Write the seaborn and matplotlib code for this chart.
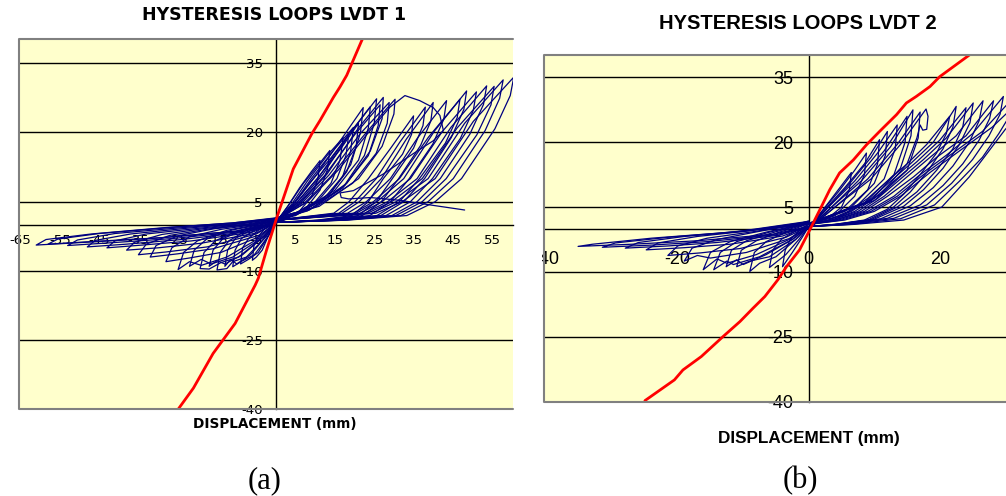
import matplotlib
matplotlib.use("Agg")
import matplotlib.pyplot as plt
from matplotlib.patches import Rectangle
import seaborn as sns
import pandas as pd

# ---------------- LVDT 1 (panel a) ----------------
lvdt1_red_x = [-24.9, -21, -16, -10.4, -5.3, -4.5, -2.4, 0, 1.7, 4.4, 9.1, 11.2, 14.6, 16.3, 18, 21.8, 23]
lvdt1_red_y = [-40, -35.4, -27.9, -21.4, -13.1, -11.6, -5.5, 1.0, 5.3, 12.1, 19.7, 22.6, 27.6, 29.9, 32.4, 39.9, 42]

# stiff positive loops (left fan)
lvdt1_left_loops = [
    [(0, 0.5), (3, 4), (6, 8), (9, 11.5), (11.2, 13.9), (10.7, 10), (9, 6), (6, 3), (2, 1), (0, 0.5)],
    [(0, 0.5), (3, 4), (7, 9), (11, 13.2), (13.7, 16.1), (13.1, 12), (11.2, 7.5), (8, 4), (3, 1.5), (0, 0.8)],
    [(0, 0.5), (4, 4.5), (8, 9.5), (13, 15), (17.1, 18.9), (16.3, 14), (14, 9), (10, 5), (4, 2), (0, 1)],
    [(0, 0.8), (4, 4), (9, 10), (15, 16.5), (19.7, 21.1), (19, 16), (17, 10.5), (12, 5.5), (5, 2), (0, 1)],
    [(0, 0.8), (5, 5), (10, 10.5), (17, 19), (22.2, 25.4), (21.5, 20), (19, 13), (14, 7), (6, 2.5), (0, 1)],
    [(0, 1), (5, 4.5), (11, 10.5), (18, 19), (24, 25.6), (23.5, 21), (21, 14), (15, 7.5), (7, 3), (0, 1)],
    [(0, 1), (6, 5), (12, 11), (19, 20), (25.6, 27.3), (25, 22), (22.5, 15), (17, 8), (8, 3), (0, 1)],
    [(0, 1), (6, 4.5), (13, 11), (21, 21), (27.3, 27.6), (27, 23), (24, 16), (18, 9), (9, 3.5), (0, 1.5)],
    [(0, 1), (7, 4.5), (14, 10.5), (22, 19), (28, 25), (30.3, 27.2), (30, 24), (27, 17), (21, 10), (11, 4), (0, 1.5)],
    [(0, 0.5), (4, 4), (8.5, 9), (14, 14.5), (18.5, 19.5), (17.8, 15), (15.5, 10), (11, 5.5), (4, 1.8), (0, 0.8)],
    [(0, 0.8), (5, 4.5), (10.5, 10), (16.5, 16.5), (21, 22), (20.4, 17), (18, 11.5), (13, 6), (5, 2.2), (0, 1)],
    [(0, 1), (6, 4.7), (12.5, 10.8), (20, 19.5), (26.5, 26), (26, 21.5), (23.5, 15), (17.5, 8.5), (8.5, 3.2), (0, 1.2)],
    [(0, 1), (6.5, 4.6), (13.5, 10.8), (21.5, 19.8), (28.8, 26.5), (28.3, 22), (25.5, 15.5), (19.5, 9), (10, 3.8), (0, 1.4)],
    [(0, 1), (8, 5), (16, 12), (24, 20.5), (29, 25.5), (32.8, 28), (36.6, 26.9), (40, 25.4), (41.7, 23.7),
     (42.6, 20.4), (40, 18.2), (34.9, 15.4), (27.3, 11), (19.7, 7.4), (16.3, 6.9), (16.6, 5.9), (18.5, 5.6),
     (24, 5.9), (31.5, 5.3), (40, 4.2), (48, 3.2)],
]

# softened positive loops (right fan)
lvdt1_right_loops = [
    [(0, 1), (14.7, 2.5), (18.6, 5), (23.5, 10), (29.1, 16.5), (35, 23.6), (34.5, 19.6), (32.2, 15.3), (27.3, 10), (23.5, 5), (19.3, 2), (10.5, 1), (0, 0.5)],
    [(0, 1), (16, 2.5), (20.1, 5), (25.5, 10), (31.5, 17.9), (38, 25.5), (37.4, 21.5), (35, 16.6), (29.6, 10), (25.5, 5), (20.9, 2), (11.4, 1), (0, 0.5)],
    [(0, 1), (16.8, 2.5), (21.2, 5), (26.8, 10), (33.2, 18.6), (40, 26.5), (39.4, 22.5), (36.8, 17.2), (31.2, 10), (26.8, 5), (22, 2), (12, 1), (0, 0.5)],
    [(0, 1), (18.2, 2.5), (23, 5), (29.1, 10), (36, 18.8), (43.4, 26.9), (42.7, 22.9), (39.9, 17.5), (33.9, 10), (29.1, 5), (23.9, 2), (13, 1), (0, 0.5)],
    [(0, 1), (19.7, 2.5), (24.8, 5), (31.4, 10), (38.8, 19), (46.8, 27.2), (46.1, 23.2), (43.1, 17.7), (36.5, 10), (31.4, 5), (25.7, 2), (14, 1), (0, 0.5)],
    [(0, 1), (20.4, 2.5), (25.7, 5), (32.5, 10), (40.3, 20.3), (48.5, 29), (47.8, 25), (44.6, 18.9), (37.8, 10), (32.5, 5), (26.7, 2), (14.6, 1), (0, 0.5)],
    [(0, 1), (21.4, 2.5), (27, 5), (34.2, 10), (42.3, 20.2), (51, 28.8), (50.2, 24.8), (46.9, 18.7), (39.8, 10), (34.2, 5), (28, 2), (15.3, 1), (0, 0.5)],
    [(0, 1), (22.5, 2.5), (28.4, 5), (35.9, 10), (44.5, 21.1), (53.6, 30.1), (52.8, 26.1), (49.3, 19.6), (41.8, 10), (35.9, 5), (29.5, 2), (16.1, 1), (0, 0.5)],
    [(0, 1), (23.3, 2.5), (29.4, 5), (37.2, 10), (46.1, 21), (55.5, 30), (54.7, 26), (51.1, 19.5), (43.3, 10), (37.2, 5), (30.5, 2), (16.7, 1), (0, 0.5)],
    [(0, 1), (24.3, 2.5), (30.6, 5), (38.7, 10), (48, 22), (57.8, 31.4), (56.9, 27.4), (53.2, 20.4), (45.1, 10), (38.7, 5), (31.8, 2), (17.3, 1), (0, 0.5)],
    [(0, 1), (25.4, 2.5), (32.1, 5), (40.5, 10), (50.2, 22.4), (60.5, 32), (59.6, 28), (55.7, 20.8), (47.2, 10), (40.5, 5), (33.3, 2), (18.2, 1), (0, 0.5)],
]

# negative half cycles
lvdt1_neg_loops = [
    [(0, 0.5), (-2, -2.5), (-3.5, -5.5), (-5, -7), (-6, -7.7), (-5.6, -4.5), (-4.5, -2.5), (-3, -1), (-1, 0), (0, 1)],
    [(0, 0.5), (-2, -2.5), (-4.5, -6), (-7, -7.5), (-9, -8.5), (-8.5, -5), (-7, -3), (-4.5, -1.2), (-2, -0.2), (0, 1)],
    [(0, 0.5), (-2, -2.5), (-5.5, -6.5), (-8.5, -7.8), (-11, -9.1), (-10.4, -5.5), (-8.8, -3), (-5.5, -1.2), (-2, -0.2), (0, 1)],
    [(0, 0.5), (-2.5, -2.5), (-6.5, -6.5), (-10, -8.5), (-11.5, -7.5), (-13, -9), (-12.3, -5.5), (-10.4, -3), (-6.5, -1.2), (-2.5, -0.2), (0, 1)],
    [(0, 0.5), (-2.5, -2.5), (-7.5, -7), (-11, -8), (-12.5, -9.5), (-15, -9.8), (-14.2, -6), (-12, -3.5), (-7.5, -1.2), (-3, -0.2), (0, 1)],
    [(0, 0.5), (-3, -2.5), (-8.5, -6.5), (-13, -8.5), (-15, -7.8), (-17, -9), (-16, -5.5), (-13.5, -3), (-8.5, -1.2), (-3, -0.1), (0, 1)],
    [(0, 0.5), (-3, -2.5), (-9.5, -7), (-14, -8.2), (-17, -9.6), (-19.3, -9.5), (-18.3, -6), (-15.5, -3.5), (-9.5, -1.2), (-4, -0.1), (0, 1)],
    [(0, 0.5), (-3, -2.5), (-11, -7), (-16.5, -8.5), (-19, -7.5), (-22, -9), (-20.8, -5.5), (-17.5, -3), (-11, -1.1), (-4, 0), (0, 1)],
    [(0, 0.5), (-3.5, -2.5), (-12.5, -7), (-19, -8.8), (-22, -8), (-24.9, -9.7), (-23.5, -6), (-20, -3.5), (-12.5, -1.2), (-5, 0), (0, 1)],
    [(0, 0.5), (-4, -2.5), (-14, -6), (-22, -7.2), (-28, -8), (-26.5, -5), (-22, -2.6), (-14, -1), (-5, 0.1), (0, 1)],
    [(0, 0.5), (-4, -2.2), (-16, -5.2), (-25, -6.3), (-32, -7), (-30.5, -4.5), (-25, -2.4), (-16, -0.9), (-6, 0.1), (0, 1)],
    [(0, 0.5), (-5, -2), (-17.5, -4.8), (-28, -5.9), (-35, -6.5), (-33, -4.2), (-27, -2.3), (-17, -0.9), (-6, 0.2), (0, 1.2)],
    [(0, 0.5), (-5, -1.8), (-19, -4), (-30, -5), (-38, -5.5), (-36, -3.8), (-29, -2.1), (-18, -0.8), (-7, 0.2), (0, 1.2)],
    [(0, 0.5), (-6, -1.6), (-21.5, -3.5), (-34, -4.4), (-43, -5), (-41, -3.5), (-33, -2), (-20, -0.8), (-8, 0.3), (0, 1.3)],
    [(0, 0.5), (-7, -1.5), (-24, -3.2), (-38, -4.2), (-48, -4.8), (-46, -3.4), (-37, -2), (-22, -0.7), (-9, 0.3), (0, 1.3)],
    [(0, 0.5), (-8, -1.4), (-26.5, -3), (-42, -3.9), (-53, -4.5), (-50.5, -3.3), (-41, -1.9), (-25, -0.7), (-10, 0.3), (0, 1.4)],
    [(0, 0.5), (-9, -1.3), (-29, -2.8), (-46, -3.6), (-58, -4.2), (-55.5, -3.1), (-45, -1.9), (-27, -0.6), (-11, 0.4), (0, 1.4)],
    [(0, 0.5), (-9, -1.3), (-30.5, -2.9), (-48.5, -3.8), (-61, -4.4), (-58.5, -3.2), (-47, -2), (-28, -0.6), (-11, 0.4), (0, 1.5)],
]

lvdt1_xticks = [-65, -55, -45, -35, -25, -15, -5, 5, 15, 25, 35, 45, 55]
yticks = [-40, -25, -10, 5, 20, 35]

# ---------------- LVDT 2 (panel b) ----------------
lvdt2_red_x = [-25, -20.5, -19.2, -16.4, -13.1, -10.5, -8.5, -6.7, -4.7, -3.4, -1.4, 0.15, 1.7, 3.2, 4.7,
               6.8, 8.8, 10.8, 13.4, 14.9, 16.4, 18.5, 20, 24.6, 26]
lvdt2_red_y = [-39.8, -35, -32.7, -29.6, -25, -21.5, -18.4, -15.7, -11.8, -8.8, -4.9, -0.3, 4.4, 9, 12.9,
               15.9, 19.4, 22.5, 26.4, 29.1, 30.6, 32.9, 35.2, 40.3, 41.5]

lvdt2_left_loops = [
    [(0, 0), (2, 4), (4, 8), (6.5, 13), (6.2, 9), (5, 5), (3, 2.5), (0, 1)],
    [(0, 0), (2, 4), (4.5, 8.5), (7, 13.5), (8.8, 17.5), (8.5, 12.5), (7, 7.5), (4, 3), (0, 1)],
    [(0, 0), (2.5, 4.5), (5.5, 9.5), (8.5, 15), (10.8, 20.6), (10.5, 15), (9, 9), (5.5, 4), (0, 1)],
    [(0, 0), (3, 5), (6, 10), (9.5, 16.5), (12, 22.5), (11.7, 17), (10, 10.5), (6.5, 5), (0, 1)],
    [(0, 0), (3, 5), (7, 11), (10.5, 17.5), (13.5, 24), (13.2, 18.5), (11.5, 11.5), (7.5, 5.5), (0, 1.2)],
    [(0, 0), (3.5, 5), (7.5, 11), (11.5, 18), (15, 26), (14.7, 20), (13, 12.5), (8.5, 6), (0, 1.2)],
    [(0, 0), (3.5, 5), (8, 11), (12.5, 19), (15.9, 27.5), (15.6, 21.5), (14, 14), (9.5, 6.5), (0, 1.2)],
    [(0, 0), (4, 5), (9, 11.5), (13.5, 19.5), (17, 27), (16.7, 21), (15, 13.5), (10, 6.5), (0, 1.2)],
    [(0, 0), (4, 5), (9.5, 11.5), (14, 19.5), (17.9, 27.7), (18.2, 26), (18, 23), (17.4, 22.8), (17, 24),
     (16.5, 21), (15, 15), (11, 8), (5, 3), (0, 1.2)],
]

lvdt2_right_loops = [
    [(0, 1), (3, 2), (6, 4), (9, 7), (12, 11), (15, 15), (18, 19.5), (21.5, 26), (21, 22), (19.5, 17.5),
     (17, 12.5), (14.5, 8), (12, 4.5), (8.5, 2), (4, 1), (0, 0.5)],
    [(0, 1), (3, 2), (6.5, 4), (9.5, 7), (12.5, 11), (15.5, 15), (19, 20), (22.5, 28.3), (22, 23.5), (20.5, 18.5),
     (18, 13), (15.5, 8.5), (12.8, 4.8), (9, 2), (4, 1), (0, 0.5)],
    [(0, 1), (3.5, 2), (7, 4), (10, 7), (13, 11), (16.5, 15.5), (20, 20.5), (24, 28), (23.5, 23.5), (22, 18.5),
     (19.5, 13.5), (16.5, 8.5), (13.5, 5), (9.5, 2.1), (4.5, 1), (0, 0.5)],
    [(0, 1), (3.5, 2), (7.5, 4), (10.5, 7), (14, 11.5), (17.5, 16), (21, 21), (25.1, 29.1), (24.6, 24.5), (23, 19.5),
     (20.5, 14), (17.5, 9), (14.5, 5.2), (10, 2.2), (4.5, 1), (0, 0.5)],
    [(0, 1), (4, 2), (8, 4), (11.5, 7.5), (15, 12), (18.5, 16.5), (22.5, 21.5), (26.6, 29.6), (26, 25), (24.5, 20),
     (22, 14.5), (19, 9.5), (15.5, 5.3), (11, 2.3), (5, 1), (0, 0.5)],
    [(0, 1), (4, 2), (8.5, 4), (12, 7.5), (16, 12), (19.5, 16.5), (24, 21.5), (28.2, 29.6), (27.6, 25.5), (26, 20.5),
     (23.5, 15), (20.5, 10), (17, 5.5), (12, 2.4), (5.5, 1), (0, 0.5)],
    [(0, 1), (4.5, 2), (9, 4), (13, 7.5), (17, 12.5), (21, 17), (25, 22), (29.7, 30.6), (29.2, 26.5), (27.5, 21.5),
     (25, 16), (21.8, 10.5), (18, 5.5), (13, 2.4), (6, 1), (0, 0.5)],
    [(0, 1), (5, 2), (9.5, 4), (13.5, 7.5), (17.5, 12.5), (22, 17.5), (26.5, 22.5), (31.5, 30.8), (30.8, 26.5), (29, 22),
     (26.5, 16.5), (23, 11), (19.2, 5.5), (14, 2.3), (6.5, 1), (0, 0.5)],
    [(0, 1), (5.5, 2), (10, 4), (14, 7.5), (18.5, 13), (23, 18), (28, 23.5), (33.5, 31.5), (32.5, 27), (30, 23),
     (28, 19), (24.5, 12), (20.3, 5), (14.5, 2), (7, 1), (0, 0.5)],
]

lvdt2_neg_loops = [
    [(0, 0.5), (-1, -2), (-2.5, -5.5), (-4, -8.8), (-3.6, -5), (-2.8, -2.5), (-1.5, -0.5), (0, 1)],
    [(0, 0.5), (-1.5, -2.5), (-3.5, -6), (-6, -9), (-5.5, -5), (-4.2, -2.5), (-2, -0.5), (0, 1)],
    [(0, 0.5), (-2, -2.5), (-5, -6.5), (-7.5, -8), (-9, -9.9), (-8.3, -5.5), (-6.5, -3), (-3.5, -0.8), (0, 1.2)],
    [(0, 0.5), (-2, -2.5), (-6, -6.5), (-9, -7.5), (-11, -8.8), (-10.3, -5), (-8, -2.8), (-4.5, -0.8), (0, 1.2)],
    [(0, 0.5), (-2.5, -2.5), (-6.5, -6), (-10, -8.3), (-11, -7.2), (-12.6, -8.8), (-11.8, -5), (-9.5, -2.8), (-5, -0.7), (0, 1.3)],
    [(0, 0.5), (-2.5, -2.5), (-7.5, -6.5), (-11.5, -8.3), (-12.5, -7.5), (-14.5, -9.5), (-13.5, -5.5), (-11, -3), (-6, -0.8), (0, 1.3)],
    [(0, 0.5), (-3, -2.5), (-8, -6), (-12.5, -8), (-14, -7), (-16.1, -9.5), (-15, -5.5), (-12, -3), (-6.5, -0.8), (0, 1.4)],
    [(0, 0.5), (-3, -2.3), (-9.5, -5.5), (-15, -6.8), (-17, -6.2), (-19, -7.5), (-17.8, -4.5), (-14, -2.5), (-7.5, -0.6), (0, 1.4)],
    [(0, 0.5), (-3.5, -2), (-10.5, -4.6), (-16.5, -5.6), (-21.5, -6.2), (-20, -4), (-15.5, -2.2), (-8, -0.6), (0, 1.5)],
    [(0, 0.5), (-4, -1.7), (-12, -3.6), (-19, -4.4), (-24.8, -4.9), (-23, -3.3), (-17, -1.8), (-9, -0.5), (0, 1.5)],
    [(0, 0.5), (-4.5, -1.5), (-14, -3.2), (-21.5, -4), (-28, -4.5), (-26, -3.2), (-19, -1.8), (-10, -0.6), (0, 1.6)],
    [(0, 0.5), (-5, -1.4), (-15.5, -3), (-24, -3.8), (-31.5, -4.3), (-29.5, -3.3), (-21.5, -2), (-11, -0.7), (0, 1.7)],
    [(0, 0.5), (-5.5, -1.3), (-17, -2.8), (-27, -3.6), (-35.2, -4.1), (-33, -3.6), (-24, -2.2), (-13.5, -1), (-3, 0.5), (0, 1.8)],
]

lvdt2_xticks = [-40, -20, 0, 20]

NAVY = "#000080"
BG = "#FFFFCC"
W, H = 1006, 496


def loops_frame(*groups):
    rows = []
    k = 0
    for group in groups:
        for loop in group:
            for x, y in loop:
                rows.append((k, x, y))
            k += 1
    return pd.DataFrame(rows, columns=["loop", "disp", "load"])


def draw_panel(ax, df, red_x, red_y, xlim, xticks, fam, size, tick_len, xpad, ypad):
    ax.set_facecolor(BG)
    for y in yticks:
        ax.axhline(y, color="black", lw=1.0, zorder=1)
    sns.lineplot(data=df, x="disp", y="load", units="loop", estimator=None, sort=False,
                 color=NAVY, linewidth=0.9, ax=ax, zorder=3)
    sns.lineplot(x=red_x, y=red_y, sort=False, color="red", linewidth=2.0, ax=ax, zorder=4)
    ax.set_xlim(*xlim)
    ax.set_ylim(-40, 40.2)
    ax.set_xticks(xticks)
    ax.set_yticks(yticks)
    ax.set_xlabel("")
    ax.set_ylabel("")
    ax.spines["left"].set_position(("data", 0))
    ax.spines["bottom"].set_position(("data", 0))
    ax.spines["top"].set_visible(False)
    ax.spines["right"].set_visible(False)
    for s in ("left", "bottom"):
        ax.spines[s].set_color("black")
        ax.spines[s].set_linewidth(1.0)
    ax.tick_params(axis="x", direction="out", length=tick_len, width=1, pad=xpad, labelsize=size,
                   colors="black")
    ax.tick_params(axis="y", direction="out", length=tick_len, width=1, pad=ypad, labelsize=size,
                   colors="black")
    for lab in ax.get_xticklabels() + ax.get_yticklabels():
        lab.set_fontfamily(fam)
    # grey plot-area frame (right side is cropped in the source)
    ax.plot([1, 0, 0, 1], [1, 1, 0, 0], transform=ax.transAxes, color="#808080",
            lw=1.5, clip_on=False, zorder=5)


sns.set_style("white")
plt.rcParams["font.family"] = ["DejaVu Sans"]
plt.rcParams["axes.unicode_minus"] = False
plt.rcParams["text.color"] = "black"

fig = plt.figure(figsize=(W / 100, H / 100), dpi=100)

ax1 = fig.add_axes([19.3 / W, (H - 409.3) / H, (513 - 19.3) / W, 370 / H])
df1 = loops_frame(lvdt1_neg_loops, lvdt1_left_loops, lvdt1_right_loops)
draw_panel(ax1, df1, lvdt1_red_x, lvdt1_red_y, (-65.3, 60.3), lvdt1_xticks,
           ["DejaVu Sans"], 9.6, 3.5, 3.0, 6.0)

ax2 = fig.add_axes([544 / W, (H - 401.5) / H, (W - 544) / W, 346.5 / H])
df2 = loops_frame(lvdt2_neg_loops, lvdt2_left_loops, lvdt2_right_loops)
sans = ["Liberation Sans", "DejaVu Sans"]
draw_panel(ax2, df2, lvdt2_red_x, lvdt2_red_y, (-40.4, 30.1), lvdt2_xticks,
           sans, 13, 5.0, 11.0, 6.0)

# the source image of panel (b) is cut just left of its plot area
fig.patches.append(Rectangle((520 / W, 1 - 280 / H), 22 / W, 30 / H, transform=fig.transFigure,
                             facecolor="white", edgecolor="none", zorder=10))


def ftext(x, y, s, **kw):
    fig.text(x / W, 1 - y / H, s, ha="center", va="center", color="black", **kw)


ftext(274.5, 15, "HYSTERESIS LOOPS LVDT 1", fontsize=12.5, fontweight="bold", family=["DejaVu Sans"])
ftext(275, 424.5, "DISPLACEMENT (mm)", fontsize=9.8, fontweight="bold", family=["DejaVu Sans"])
ftext(797.5, 23.5, "HYSTERESIS LOOPS LVDT 2", fontsize=14.5, fontweight="bold", family=sans)
ftext(808.5, 439, "DISPLACEMENT (mm)", fontsize=12.3, fontweight="bold", family=sans)
ftext(265, 481, "(a)", fontsize=22, family=["Liberation Serif", "DejaVu Serif"])
ftext(800.5, 481, "(b)", fontsize=22, family=["Liberation Serif", "DejaVu Serif"])

fig.savefig("out.png", dpi=100, facecolor="white")
